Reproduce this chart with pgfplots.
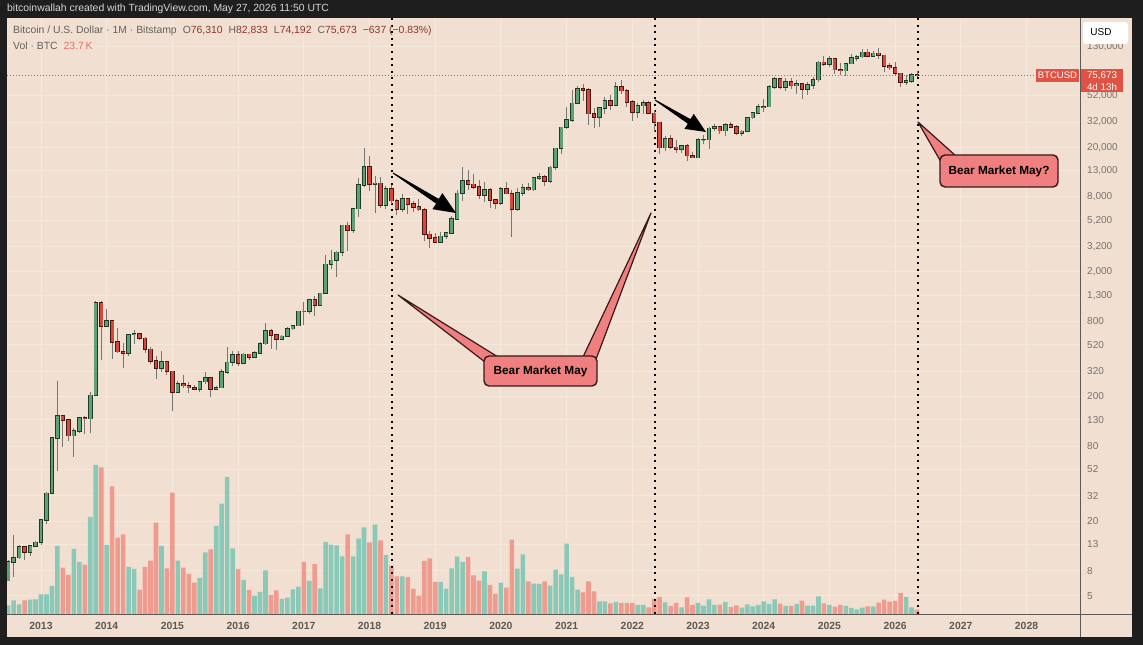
\documentclass[border=0pt]{standalone}
\usepackage{pgfplots}
\pgfplotsset{compat=1.18}
\usepackage{pgfplotstable}
\usepackage{fontspec}
\setmainfont{Liberation Sans}
\definecolor{frame}{RGB}{30,30,30}
\definecolor{bg}{RGB}{241,224,209}
\definecolor{gridc}{RGB}{245,233,222}
\definecolor{gfill}{RGB}{96,160,118}
\definecolor{gedge}{RGB}{28,58,38}
\definecolor{rfill}{RGB}{214,72,60}
\definecolor{redge}{RGB}{72,22,16}
\definecolor{wick}{RGB}{120,118,116}
\definecolor{volg}{RGB}{138,200,184}
\definecolor{volr}{RGB}{238,156,144}
\definecolor{tickc}{RGB}{118,114,110}
\definecolor{yearc}{RGB}{92,88,84}
\definecolor{axc}{RGB}{95,90,86}
\definecolor{pricered}{RGB}{224,82,67}
\definecolor{callfill}{RGB}{240,128,128}
\definecolor{calledge}{RGB}{55,25,25}
\definecolor{hdrgray}{RGB}{100,96,92}
\definecolor{hdrval}{RGB}{140,52,46}
\definecolor{volval}{RGB}{232,110,100}
\definecolor{titlec}{RGB}{215,215,215}

% k = months since Jan 2013; o h l c in USD; v = volume (K BTC)
\pgfplotstableread{
k o h l c v
-6 6.65 9.65 6.6 9.35 48
-5 9.35 15.4 7.1 10.15 75
-4 10.15 12.9 9.9 12.4 53
-2 11.2 12.7 10.5 12.6 79
-1 12.6 13.7 12.5 13.5 81
0 13.5 20.6 12.9 20.4 108
1 20.4 34 19.1 33.4 108
2 33.4 95 33 93 154
3 93 266 50 139 374
6 97 111 65 106 358
7 106 136 101 135 286
9 133 217 101 204 534
10 204 1163 200 1128 820
12 732 1000 730 807 380
16 448 633 420 628 259
17 628 680 525 640 248
22 338 460 317 378 374
25 218 265 212 254 293
29 230 268 218 263 198
30 263 315 252 284 339
32 230 245 225 236 484
33 236 330 235 314 607
34 314 500 303 377 754
35 377 465 350 430 361
37 369 448 365 436 187
39 416 467 413 448 101
40 448 550 437 531 121
41 531 778 521 673 240
44 574 620 565 608 83
45 608 720 606 700 90
46 700 752 680 742 136
47 742 975 740 966 150
49 963 1200 920 1190 182
51 1080 1355 1060 1350 141
52 1350 2760 1345 2300 396
53 2300 3000 2100 2480 381
54 2480 2950 1830 2875 378
55 2875 4770 2680 4735 317
57 4340 6470 4110 6440 317
58 6440 11400 5500 9950 414
59 9950 19666 9700 13880 477
61 10100 11800 6000 10300 491
63 6920 9750 6430 9240 325
66 6390 8500 6100 7730 207
73 3450 4200 3390 3860 176
74 3860 4140 3700 4100 139
75 4100 5600 4080 5320 251
76 5320 9100 5300 8560 315
77 8560 13880 7480 10820 286
81 8300 10500 7300 9150 235
84 7180 9580 6860 9350 172
87 6420 9460 6150 8630 249
88 8630 10080 8120 9450 328
90 9140 11450 8980 11350 167
91 11350 12490 10970 11650 165
93 10780 14100 10380 13800 156
94 13800 19900 13200 19700 244
95 19700 29300 17600 28950 218
96 28950 41950 28100 33100 387
97 33100 58350 32300 45200 204
98 45200 61800 44950 58800 134
102 35000 42300 29300 41500 70
103 41500 50500 37300 47100 70
105 43800 67000 43300 61300 66
109 38500 45800 34300 43200 50
110 43200 48200 37200 45500 50
114 19900 24700 18800 23300 64
117 19430 21000 18200 20500 37
120 16550 23950 16500 23140 61
121 23140 25250 21400 23150 46
122 23150 29200 19550 28470 81
123 28470 31000 26900 29250 50
125 27200 31400 24800 30470 66
128 25940 27500 24900 26960 35
129 26960 35200 26550 34650 53
130 34650 38400 34100 37720 42
131 37720 44700 37600 42270 50
132 42270 48970 38550 42580 70
133 42580 64000 41900 61180 55
134 61180 73800 59100 71300 81
136 60650 71900 56600 67500 44
138 62700 70000 53500 64600 55
140 58950 66500 52600 63300 46
141 63300 73600 58900 70200 46
142 70200 99600 66800 96400 97
144 93400 109300 89200 102400 50
147 82500 95800 74500 94200 44
148 94200 112000 93400 104600 33
149 104600 110500 98200 107100 26
150 107100 123200 105100 115800 35
152 108300 117900 107300 114000 42
158 66500 76000 63000 68300 94
159 68300 79000 65500 76310 37
}\up

\pgfplotstableread{
k o h l c v
-3 12.4 12.6 9.8 11.2 75
4 139 140 79 129 255
5 129 129.5 88 97 215
8 135 140 100 133 271
11 1128 1160 390 732 807
13 807 830 400 549 702
14 549 710 450 457 420
15 457 540 340 448 438
18 640 650 565 585 134
19 585 600 450 478 259
20 478 500 365 386 293
21 386 420 275 338 502
23 378 382 300 318 251
24 318 320 152 218 667
26 254 300 236 244 255
27 244 260 215 236 220
28 236 248 225 230 172
31 284 286 198 230 356
36 430 462 350 369 248
38 436 439 393 416 132
42 673 703 480 624 105
43 624 630 470 574 130
48 966 1155 750 963 286
50 1190 1290 890 1080 275
56 4735 5000 2970 4340 438
60 13880 17200 9000 10100 394
62 10300 11600 6500 6920 405
64 9240 9990 7090 7490 266
65 7490 7770 5750 6390 207
67 7730 7760 5880 7020 204
68 7020 7420 6100 6630 138
69 6630 7680 6200 6320 101
70 6320 6570 3560 4010 292
71 4010 4240 3120 3740 306
72 3740 4080 3400 3450 176
78 10820 13200 9070 10090 314
79 10090 12330 9330 9600 213
80 9600 10950 7710 8300 183
82 9150 9510 6520 7550 160
83 7550 7750 6430 7180 110
85 9350 10500 8460 8530 145
86 8530 9180 3850 6420 409
89 9450 10390 8920 9140 180
92 11650 12080 9880 10780 180
99 58800 64900 47000 57700 119
100 57700 59500 30000 37300 180
101 37300 41300 28800 35000 125
104 47100 52900 39600 43800 59
106 61300 69000 53300 57000 61
107 57000 59000 42000 46200 61
108 46200 48000 32900 38500 61
111 45500 47400 37700 37650 37
112 37650 39900 26600 31800 85
113 31800 31900 17600 19900 94
115 23300 25200 19600 20050 44
116 20050 22800 18150 19430 61
118 20500 21450 15500 17170 92
119 17170 18400 16300 16550 50
124 29250 29850 25800 27200 51
126 30470 31800 28900 29230 39
127 29230 30200 25150 25940 48
135 71300 72800 59200 60650 57
137 67500 71950 58400 62700 44
139 64600 65100 49000 58950 73
143 96400 108300 90500 93400 59
145 102400 102700 78200 84350 40
146 84350 95000 76600 82500 50
151 115800 124500 108000 108300 42
153 114000 126200 103500 109600 62
154 109600 111200 80600 90400 79
155 90400 94600 84400 87500 68
156 87500 97000 75000 78500 72
157 78500 79500 61000 66500 116
160 76310 82833 74192 75673 24
}\down

\begin{document}
\begin{tikzpicture}
\begin{scope}[shift={(0pt,645pt)}, x=1pt, y=-1pt]
  \fill[frame] (0,0) rectangle (1143,645);
  \fill[bg] (7,18) rectangle (1132,637);
\end{scope}

% grid and tick labels
\begin{axis}[at={(7pt,31pt)}, anchor=south west, width=1073pt, height=596pt,
  scale only axis, xmin=-6.21, xmax=189.77,
  ymode=log, ymin=3.584, ymax=219000,
  axis line style={draw=none}, major tick length=0pt,
  xminorticks=false, yminorticks=false,
  xtick={0,12,24,36,48,60,72,84,96,108,120,132,144,156,168,180},
  xticklabels={2013,2014,2015,2016,2017,2018,2019,2020,2021,2022,2023,2024,2025,2026,2027,2028},
  ytick={5,8,13,20,32,52,80,130,200,320,520,800,1300,2000,3200,5200,8000,13000,20000,32000,52000,130000},
  yticklabels={5,8,13,20,32,52,80,130,200,320,520,800,{1,300},{2,000},{3,200},{5,200},{8,000},{13,000},{20,000},{32,000},{52,000},{130,000}},
  yticklabel pos=right,
  xmajorgrids, ymajorgrids, major grid style={draw=gridc, line width=1pt},
  xticklabel style={font=\fontsize{10.4}{12}\selectfont\bfseries, text=yearc, anchor=center, yshift=-12pt, inner sep=0pt},
  yticklabel style={font=\fontsize{10}{12}\selectfont, text=tickc, anchor=west, xshift=7pt, inner sep=0pt},
]
\addplot[draw=none, mark=none, forget plot] table[x=k, y=c] {\up};
\end{axis}

% volume overlay
\begin{axis}[at={(7pt,31pt)}, anchor=south west, width=1073pt, height=596pt,
  scale only axis, xmin=-6.21, xmax=189.77, ymin=0, ymax=3278, hide axis]
\addplot[ybar, bar width=4.6pt, bar shift=0pt, fill=volg, draw=none] table[x=k, y=v] {\up};
\addplot[ybar, bar width=4.6pt, bar shift=0pt, fill=volr, draw=none] table[x=k, y=v] {\down};
\end{axis}

% dotted vertical markers (May 2018, May 2022, May 2026)
\begin{scope}[shift={(0pt,645pt)}, x=1pt, y=-1pt]
  \foreach \xx in {391.5,654.5,917.5}
    \draw[black, line width=2pt, dash pattern=on 2pt off 4.6pt] (\xx,18) -- (\xx,614);
\end{scope}

% candles
\begin{axis}[at={(7pt,31pt)}, anchor=south west, width=1073pt, height=596pt,
  scale only axis, xmin=-6.21, xmax=189.77,
  ymode=log, ymin=3.584, ymax=219000, hide axis]
\addplot[draw=none, mark=none, forget plot,
  error bars/y dir=minus, error bars/y explicit, error bars/error mark=none,
  error bars/error bar style={draw=wick, line width=0.9pt}]
  table[x=k, y=h, y error minus expr={\thisrow{h}-\thisrow{l}}] {\up};
\addplot[draw=none, mark=none, forget plot,
  error bars/y dir=minus, error bars/y explicit, error bars/error mark=none,
  error bars/error bar style={draw=wick, line width=0.9pt}]
  table[x=k, y=h, y error minus expr={\thisrow{h}-\thisrow{l}}] {\down};
\addplot[draw=none, mark=none, forget plot,
  error bars/y dir=minus, error bars/y explicit, error bars/error mark=none,
  error bars/error bar style={draw=gedge, line width=4.5pt, shorten <=-0.7pt, shorten >=-0.7pt}]
  table[x=k, y=c, y error minus expr={\thisrow{c}-\thisrow{o}}] {\up};
\addplot[draw=none, mark=none, forget plot,
  error bars/y dir=minus, error bars/y explicit, error bars/error mark=none,
  error bars/error bar style={draw=gfill, line width=2.9pt}]
  table[x=k, y=c, y error minus expr={\thisrow{c}-\thisrow{o}}] {\up};
\addplot[draw=none, mark=none, forget plot,
  error bars/y dir=minus, error bars/y explicit, error bars/error mark=none,
  error bars/error bar style={draw=redge, line width=4.5pt, shorten <=-0.7pt, shorten >=-0.7pt}]
  table[x=k, y=o, y error minus expr={\thisrow{o}-\thisrow{c}}] {\down};
\addplot[draw=none, mark=none, forget plot,
  error bars/y dir=minus, error bars/y explicit, error bars/error mark=none,
  error bars/error bar style={draw=rfill, line width=2.9pt}]
  table[x=k, y=o, y error minus expr={\thisrow{o}-\thisrow{c}}] {\down};
\end{axis}

\begin{scope}[shift={(0pt,645pt)}, x=1pt, y=-1pt]
  % separators
  \draw[axc, line width=1pt] (1080.5,18) -- (1080.5,637);
  \draw[axc, line width=1pt] (7,614.5) -- (1132,614.5);
  % current price line
  \draw[pricered, line width=0.8pt, dash pattern=on 1pt off 2pt] (7,75.4) -- (1036,75.4);
  \fill[pricered] (1036,69) rectangle (1079,82);
  \node[text=white, font=\fontsize{9.5}{11}\selectfont, inner sep=0] at (1057.5,75.5) {BTCUSD};
  \fill[pricered] (1081,69) rectangle (1123,92.5);
  \node[text=white, font=\fontsize{9.8}{11}\selectfont, inner sep=0] at (1102,75.5) {75,673};
  \node[text=white, font=\fontsize{9.8}{11}\selectfont, inner sep=0] at (1102,87) {4d 13h};
  % USD box
  \fill[white, rounded corners=3pt] (1083,22) rectangle (1128,44);
  \node[text=black, font=\fontsize{10}{12}\selectfont, inner sep=0] at (1101,32.5) {USD};
  % title strip
  \node[anchor=west, text=titlec, font=\fontsize{10.4}{12}\selectfont, inner sep=0] at (7,9)
    {bitcoinwallah created with TradingView.com, May 27, 2026 11:50 UTC};
  % header
  \node[anchor=west, font=\fontsize{10.4}{12}\selectfont, inner sep=0] at (13,31)
    {\textcolor{hdrgray}{Bitcoin / U.S. Dollar · 1M · Bitstamp}\hspace{6pt}%
     \textcolor{hdrgray}{O}\textcolor{hdrval}{76,310}\hspace{6pt}%
     \textcolor{hdrgray}{H}\textcolor{hdrval}{82,833}\hspace{6pt}%
     \textcolor{hdrgray}{L}\textcolor{hdrval}{74,192}\hspace{6pt}%
     \textcolor{hdrgray}{C}\textcolor{hdrval}{75,673}\hspace{6pt}%
     \textcolor{hdrval}{−637 (−0.83\%)}};
  \node[anchor=west, font=\fontsize{10.4}{12}\selectfont, inner sep=0] at (13,46)
    {\textcolor{hdrgray}{Vol · BTC}\hspace{6pt}\textcolor{volval}{23.7\,K}};
  % arrows
  \fill[black] (392.7,173.4) -- (436.1,203.6) -- (432.4,209.2) -- (456,213)
     -- (442.4,193.2) -- (438.7,198.9) -- (393.3,172.6) -- cycle;
  \fill[black] (654.7,100.4) -- (687.8,123.7) -- (684.4,128.9) -- (706,132)
     -- (693.8,113.9) -- (690.4,119.1) -- (655.3,99.6) -- cycle;
  % callout tails
  \filldraw[fill=callfill, draw=calledge, line width=1.2pt, line join=round]
     (398,295) -- (485,362) -- (498,357) -- cycle;
  \filldraw[fill=callfill, draw=calledge, line width=1.2pt, line join=round]
     (651,213) -- (583,357) -- (595,362) -- cycle;
  \filldraw[fill=callfill, draw=calledge, line width=1.2pt, line join=round]
     (918,122) -- (941,162) -- (956,156) -- cycle;
  % callout boxes
  \filldraw[fill=callfill, draw=calledge, line width=1.4pt, rounded corners=5pt]
     (484,356) rectangle (597,386);
  \node[font=\fontsize{11.8}{13}\selectfont\bfseries, text=black, inner sep=0] at (540.5,371.5) {Bear Market May};
  \filldraw[fill=callfill, draw=calledge, line width=1.4pt, rounded corners=5pt]
     (940,155) rectangle (1058,187);
  \node[font=\fontsize{11.8}{13}\selectfont\bfseries, text=black, inner sep=0] at (999,171.5) {Bear Market May?};
\end{scope}

\pgfresetboundingbox
\useasboundingbox (0,0) rectangle (1143pt,645pt);
\end{tikzpicture}
\end{document}
